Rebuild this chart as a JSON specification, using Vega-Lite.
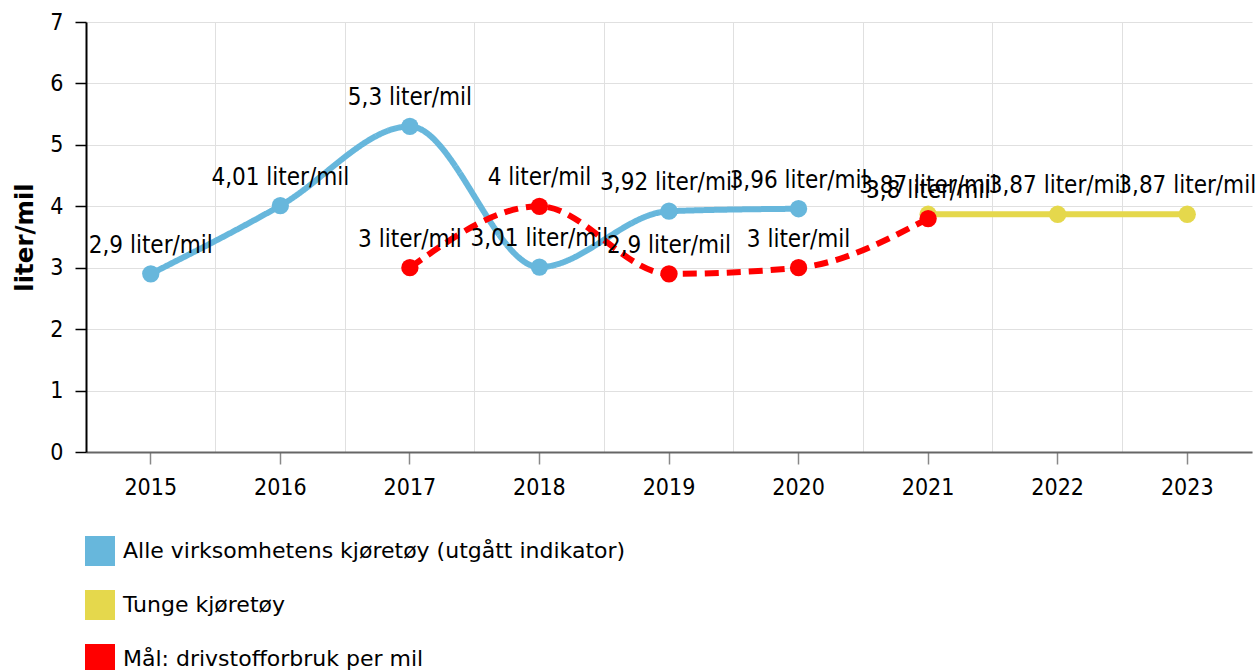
{
  "$schema": "https://vega.github.io/schema/vega-lite/v6.json",
  "width": 1166,
  "height": 430,
  "autosize": "none",
  "padding": {"left": 86, "top": 22, "right": 6, "bottom": 218},
  "config": {
    "font": "DejaVu Sans Condensed",
    "view": {"stroke": null}
  },
  "data": {
    "values": [
      {"year": "2015", "series": "Alle virksomhetens kjøretøy (utgått indikator)", "value": 2.9, "label": "2,9 liter/mil"},
      {"year": "2016", "series": "Alle virksomhetens kjøretøy (utgått indikator)", "value": 4.01, "label": "4,01 liter/mil"},
      {"year": "2017", "series": "Alle virksomhetens kjøretøy (utgått indikator)", "value": 5.3, "label": "5,3 liter/mil"},
      {"year": "2018", "series": "Alle virksomhetens kjøretøy (utgått indikator)", "value": 3.01, "label": "3,01 liter/mil"},
      {"year": "2019", "series": "Alle virksomhetens kjøretøy (utgått indikator)", "value": 3.92, "label": "3,92 liter/mil"},
      {"year": "2020", "series": "Alle virksomhetens kjøretøy (utgått indikator)", "value": 3.96, "label": "3,96 liter/mil"},
      {"year": "2021", "series": "Tunge kjøretøy", "value": 3.87, "label": "3,87 liter/mil"},
      {"year": "2022", "series": "Tunge kjøretøy", "value": 3.87, "label": "3,87 liter/mil"},
      {"year": "2023", "series": "Tunge kjøretøy", "value": 3.87, "label": "3,87 liter/mil"},
      {"year": "2017", "series": "Mål: drivstofforbruk per mil", "value": 3.0, "label": "3 liter/mil"},
      {"year": "2018", "series": "Mål: drivstofforbruk per mil", "value": 4.0, "label": "4 liter/mil"},
      {"year": "2019", "series": "Mål: drivstofforbruk per mil", "value": 2.9, "label": "2,9 liter/mil"},
      {"year": "2020", "series": "Mål: drivstofforbruk per mil", "value": 3.0, "label": "3 liter/mil"},
      {"year": "2021", "series": "Mål: drivstofforbruk per mil", "value": 3.8, "label": "3,8 liter/mil"}
    ]
  },
  "resolve": {"axis": {"x": "independent"}},
  "layer": [
    {
      "mark": {"type": "line", "interpolate": "monotone", "strokeWidth": 6},
      "encoding": {
        "x": {
          "field": "year", "type": "ordinal",
          "scale": {"type": "band", "paddingInner": 0, "paddingOuter": 0, "domain": ["2015","2016","2017","2018","2019","2020","2021","2022","2023"]},
          "axis": {"orient": "bottom", "grid": true, "bandPosition": 0, "gridColor": "#e0e0e0", "gridWidth": 1, "ticks": false, "labels": false, "domain": false, "title": null}
        },
        "y": {
          "field": "value", "type": "quantitative",
          "scale": {"domain": [0, 7], "nice": false, "zero": true},
          "axis": {
            "values": [0,1,2,3,4,5,6,7], "format": "d", "grid": true, "gridColor": "#e0e0e0", "gridWidth": 1,
            "domainColor": "#000000", "domainWidth": 2, "tickColor": "#000000", "tickWidth": 1.5, "tickSize": 11,
            "labelFontSize": 23, "labelColor": "#000000", "labelPadding": 12,
            "title": "liter/mil", "titleFont": "DejaVu Sans", "titleFontSize": 24.5, "titleFontWeight": "bold", "titleColor": "#000000",
            "titleX": -54, "titleY": 215, "titleBaseline": "alphabetic", "titleAlign": "center", "titleAngle": -90
          }
        },
        "color": {
          "field": "series", "type": "nominal",
          "scale": {
            "domain": ["Alle virksomhetens kjøretøy (utgått indikator)", "Tunge kjøretøy", "Mål: drivstofforbruk per mil"],
            "range": ["#67b7dc", "#e5d84c", "#ff0000"]
          }
        },
        "strokeDash": {
          "condition": {"test": "datum.series === 'Mål: drivstofforbruk per mil'", "value": [14, 8]},
          "value": [1, 0]
        }
      }
    },
    {
      "mark": {"type": "point", "filled": true, "size": 300, "opacity": 1, "shape": "circle"},
      "encoding": {
        "x": {
          "field": "year", "type": "ordinal",
          "scale": {"type": "band", "paddingInner": 0, "paddingOuter": 0},
          "axis": {
            "orient": "bottom", "grid": false, "domainColor": "#666666", "domainWidth": 2,
            "tickColor": "#888888", "tickSize": 12, "tickWidth": 1.5,
            "labelFontSize": 23, "labelColor": "#000000", "labelPadding": 12, "labelAngle": 0, "title": null
          }
        },
        "y": {"field": "value", "type": "quantitative"},
        "color": {
          "field": "series", "type": "nominal",
          "legend": {
            "orient": "none", "legendX": -1, "legendY": 514, "direction": "vertical", "title": null,
            "symbolType": "square", "symbolSize": 900, "symbolStrokeWidth": 0, "symbolOpacity": 1,
            "labelFont": "DejaVu Sans", "labelFontSize": 22, "labelColor": "#000000", "labelOffset": 8, "rowPadding": 24, "labelLimit": 900
          }
        }
      }
    },
    {
      "mark": {"type": "text", "fontSize": 24, "baseline": "alphabetic", "align": "center", "dy": -21, "color": "#000000"},
      "encoding": {
        "x": {"field": "year", "type": "ordinal", "scale": {"type": "band", "paddingInner": 0, "paddingOuter": 0}, "axis": null},
        "y": {"field": "value", "type": "quantitative"},
        "text": {"field": "label"}
      }
    }
  ]
}
